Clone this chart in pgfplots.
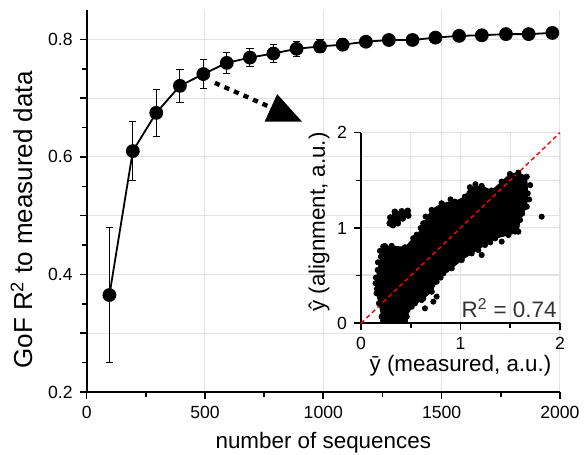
\documentclass[border=0pt]{standalone}
\usepackage{fontspec}
\setmainfont{Liberation Sans}
\usepackage{pgfplots}
\pgfplotsset{compat=1.18}
\usepackage{pgfplotstable}

\pgfplotstableread{
x     y      e
96    0.365  0.115
195   0.610  0.050
294   0.675  0.040
394   0.721  0.028
493   0.741  0.024
592   0.760  0.018
690   0.769  0.015
789   0.776  0.016
887   0.784  0.013
986   0.788  0.011
1082  0.791  0.010
1180  0.796  0.008
1277  0.799  0.007
1377  0.799  0.006
1474  0.803  0.006
1574  0.806  0.006
1670  0.807  0.005
1772  0.809  0.005
1868  0.809  0.005
1968  0.811  0.005
}\gofdata

\newcommand\ticksize{\fontsize{8.8}{10}\selectfont}
\newcommand\labsize{\fontsize{11.2}{13}\selectfont}

\begin{document}
\begin{tikzpicture}
\useasboundingbox (-43.35pt,-31.5pt) rectangle (248.65pt,196pt);
% main plot
\begin{axis}[
    name=main, at={(0,0)}, anchor=south west,
    scale only axis, width=236.6pt, height=191pt,
    xmin=0, xmax=2000, ymin=0.2, ymax=0.85,
    axis x line*=bottom, axis y line*=left,
    axis line style={line width=1pt},
    xtick={0,500,1000,1500,2000}, minor x tick num=1,
    ytick={0.2,0.3,0.4,0.5,0.6,0.7,0.8},
    yticklabels={0.2,,0.4,,0.6,,0.8},
    minor y tick num=1,
    xmajorgrids, ymajorgrids,
    grid style={line width=0.5pt, draw=gray!22},
    tick align=outside, tick style={black, line width=0.8pt},
    major tick length=3.5pt, minor tick length=2.5pt,
    /pgf/number format/assume math mode=true,
    /pgf/number format/1000 sep={},
    tick label style={font=\ticksize},
    label style={font=\labsize},
    xlabel={number of sequences},
    ylabel={GoF R\textsuperscript{2} to measured data},
    ylabel style={font=\fontsize{13}{15}\selectfont, xshift=-9.5pt, yshift=1pt},
    clip=false,
]
\addplot[black, line width=0.9pt, mark=*, mark size=3pt,
    mark options={fill=black, solid},
    error bars/.cd, y dir=both, y explicit,
    error bar style={line width=0.5pt, black},
    error mark options={rotate=90, black, mark size=1.8pt, line width=0.5pt}]
  table[x=x, y=y, y error=e] {\gofdata};
% dotted arrow to the inset
\draw[black, line width=2.2pt, dash pattern=on 2.6pt off 2.6pt]
  (axis cs:542,0.726) -- (axis cs:780,0.684);
\fill[black] (axis cs:805,0.707) -- (axis cs:752,0.660) -- (axis cs:910,0.660) -- cycle;
\end{axis}

% inset scatter
\begin{axis}[
    at={(137.15pt,34.35pt)}, anchor=south west,
    scale only axis, width=99.5pt, height=95.3pt,
    xmin=0, xmax=2, ymin=0, ymax=2,
    axis x line*=bottom, axis y line*=left,
    axis line style={line width=1pt},
    xtick={0,1,2}, ytick={0,1,2}, minor tick num=1,
    grid=both,
    grid style={line width=0.5pt, draw=gray!22},
    minor grid style={line width=0.5pt, draw=gray!22},
    tick align=outside, tick style={black, line width=0.8pt},
    major tick length=3.5pt, minor tick length=2.5pt,
    /pgf/number format/assume math mode=true,
    tick label style={font=\ticksize},
    label style={font=\labsize},
    xlabel={ȳ (measured, a.u.)},
    ylabel={ŷ (alignment, a.u.)},
    xlabel style={yshift=4pt},
    ylabel style={yshift=-3pt, xshift=3pt},
]
\addplot[black, fill=black, line width=0.5pt, mark=*, mark size=1.3pt]
  coordinates {
  (0.224,0.03)(0.208,0.070)(0.181,0.210)(0.157,0.315)(0.147,0.420)
  (0.168,0.559)(0.201,0.699)(0.224,0.804)(0.308,0.811)(0.442,0.797)
  (0.526,0.892)(0.610,0.962)(0.626,1.049)(0.710,1.189)(0.811,1.259)
  (0.945,1.276)(1.045,1.329)(1.095,1.427)(1.213,1.441)(1.313,1.392)
  (1.414,1.486)(1.497,1.566)(1.581,1.580)(1.665,1.538)(1.675,1.364)
  (1.665,1.224)(1.598,1.084)(1.581,0.962)(1.481,0.927)(1.347,0.892)
  (1.246,0.822)(1.112,0.734)(1.012,0.664)(0.911,0.577)(0.827,0.524)
  (0.760,0.437)(0.710,0.332)(0.610,0.245)(0.509,0.175)(0.459,0.070)
  (0.442,0.03)(0.224,0.03)
  };
% upper-left lobe
\addplot[black, fill=black, line width=0.5pt, mark=*, mark size=1.4pt]
  coordinates {
  (0.290,1.050)(0.295,1.110)(0.340,1.170)(0.410,1.175)(0.470,1.180)
  (0.475,1.130)(0.420,1.100)(0.370,1.050)(0.320,1.030)(0.290,1.050)
  };
\addplot[only marks, black, mark=*, mark size=1.3pt] coordinates {
  (1.816,1.119)
  (1.213,0.717)(1.179,0.769)(1.414,0.857)(1.548,0.962)(1.300,0.850)
  (0.760,0.280)(0.727,0.227)(0.643,0.157)(0.626,0.262)(0.543,0.210)
  (0.241,0.811)(0.190,0.760)(0.170,0.640)(0.150,0.480)(0.160,0.360)
  (0.250,0.030)(0.300,0.030)(0.350,0.030)(0.400,0.030)
  (0.600,1.000)(0.650,1.120)(0.900,1.300)(1.150,1.460)(1.700,1.450)
  (1.690,1.300)(1.620,1.150)(0.550,0.850)(0.800,0.480)(0.860,0.560)
  (0.680,1.100)(0.560,0.930)(0.345,1.120)(0.420,1.140)
  };
\addplot[red, line width=0.7pt, dash pattern=on 2.2pt off 1.6pt]
  coordinates {(0,0)(2,2)};
\node[anchor=south east, font=\labsize, text=black!80, inner sep=1pt]
  at (axis cs:1.99,0.03) {R\textsuperscript{2} = 0.74};
\end{axis}
\end{tikzpicture}
\end{document}
